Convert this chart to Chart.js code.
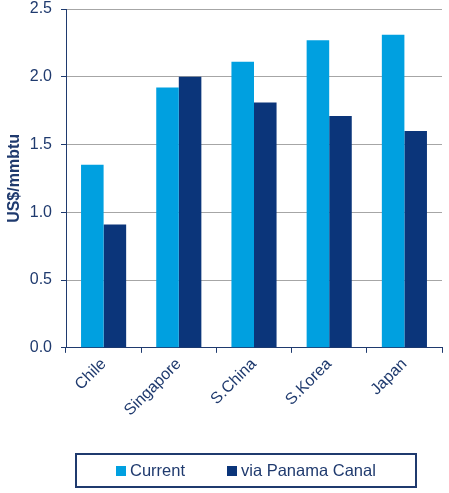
<!DOCTYPE html>
<html>
<head>
<meta charset="utf-8">
<script src="https://cdn.jsdelivr.net/npm/chart.js@4/dist/chart.umd.min.js"></script>
<style>
  html, body { margin: 0; padding: 0; background: #fff; }
  #wrap { width: 449px; height: 493px; }
</style>
</head>
<body>
<div id="wrap"><canvas id="costChart"></canvas></div>
<script>
const categories = ['Chile', 'Singapore', 'S.China', 'S.Korea', 'Japan'];
const currentCost = [1.35, 1.92, 2.11, 2.27, 2.31];
const panamaCost = [0.91, 2.00, 1.81, 1.71, 1.60];
const seriesNames = ['Current', 'via Panama Canal'];

const navy = '#1F3A6E';
const colors = ['#00A0E0', '#0B357A'];

// légende encadrée dessinée à la main
const framedLegend = {
    id: 'framedLegend',
    afterDraw(chart) {
        const ctx = chart.ctx;
        ctx.save();
        ctx.strokeStyle = navy;
        ctx.lineWidth = 2;
        ctx.strokeRect(76, 454, 340, 33);
        const itemX = [116, 227];
        ctx.font = '16.5px "Liberation Sans"';
        ctx.textBaseline = 'alphabetic';
        chart.data.datasets.forEach((ds, i) => {
            ctx.fillStyle = ds.backgroundColor;
            ctx.fillRect(itemX[i], 466, 10, 10);
            ctx.fillStyle = navy;
            ctx.fillText(ds.label, itemX[i] + 14, 476);
        });
        ctx.restore();
    }
};

var ctx = document.getElementById('costChart').getContext('2d');
var costChart = new Chart(ctx, {
    type: 'bar',
    data: {
        labels: categories,
        datasets: [{
            label: seriesNames[0],
            data: currentCost,
            backgroundColor: colors[0]
        }, {
            label: seriesNames[1],
            data: panamaCost,
            backgroundColor: colors[1]
        }]
    },
    options: {
        responsive: true,
        maintainAspectRatio: false,
        animation: false,
        layout: { padding: { left: 5, right: 7, top: 9, bottom: 71 } },
        datasets: { bar: { categoryPercentage: 0.6, barPercentage: 1.0 } },
        plugins: {
            tooltip: { enabled: false },
            legend: { display: false }
        },
        scales: {
            x: {
                afterFit: scale => { scale.paddingLeft = 0; scale.paddingRight = 0; },
                grid: { drawOnChartArea: false, offset: true, tickLength: 5, tickColor: navy },
                border: { color: navy, width: 1 },
                ticks: {
                    color: navy,
                    maxRotation: 45,
                    minRotation: 45,
                    padding: 2,
                    font: { family: 'Liberation Sans', size: 16 }
                }
            },
            y: {
                min: 0,
                max: 2.5,
                afterFit: scale => { scale.paddingTop = 0; scale.paddingBottom = 0; scale.width = 61; },
                grid: { color: '#A6A6A6', tickLength: 5, tickColor: navy },
                border: { color: navy, width: 1 },
                ticks: {
                    stepSize: 0.5,
                    color: navy,
                    padding: 9,
                    font: { family: 'Liberation Sans', size: 16 },
                    callback: v => v.toFixed(1)
                },
                title: {
                    display: true,
                    text: 'US$/mmbtu',
                    color: navy,
                    padding: { top: 0, bottom: 6 },
                    font: { family: 'Liberation Sans', size: 16, weight: 'bold' }
                }
            }
        }
    },
    plugins: [framedLegend]
});
</script>
</body>
</html>
